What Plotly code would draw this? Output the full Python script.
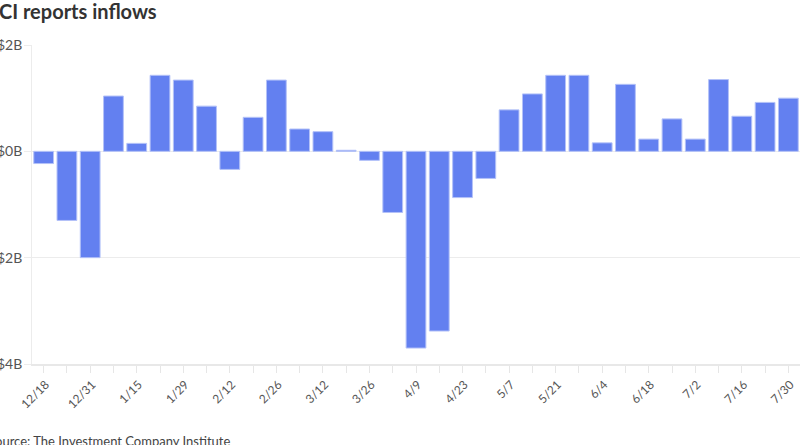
import plotly.graph_objects as go

weeks = ["12/18", "12/24", "12/31", "1/8", "1/15", "1/22", "1/29", "2/5", "2/12", "2/19",
         "2/26", "3/5", "3/12", "3/19", "3/26", "4/2", "4/9", "4/16", "4/23", "4/30",
         "5/7", "5/14", "5/21", "5/28", "6/4", "6/11", "6/18", "6/25", "7/2", "7/9",
         "7/16", "7/23", "7/30"]
inflows_b = [-0.23, -1.30, -2.00, 1.04, 0.15, 1.43, 1.34, 0.85, -0.34, 0.64,
             1.34, 0.42, 0.37, 0.02, -0.17, -1.15, -3.70, -3.38, -0.87, -0.51,
             0.78, 1.08, 1.43, 1.43, 0.16, 1.26, 0.23, 0.61, 0.23, 1.35,
             0.66, 0.92, 1.00]
y_ticks = [2, 0, -2, -4]
y_tick_labels = ["$2B", "$0B", "-$2B", "-$4B"]

title_text = "ICI reports inflows"
source_text = "Source: The Investment Company Institute"

fig = go.Figure(go.Bar(
    x=weeks, y=inflows_b,
    marker=dict(color="#6380F0", line=dict(color="#b4c2f8", width=1)),
    hoverinfo="x+y",
))

fig.update_layout(
    width=800, height=445,
    margin=dict(l=32, r=0, t=45, b=81, autoexpand=False),
    plot_bgcolor="white", paper_bgcolor="white",
    font=dict(family="Lato", color="#555555", size=12),
    bargap=0.15,
    showlegend=False,
    xaxis=dict(
        type="category",
        showgrid=False,
        showline=True, linecolor="#e8e8e8", linewidth=2,
        ticks="outside", ticklen=7, tickcolor="#e6e6e6", tickwidth=1,
        ticklabelstep=2,
        tickangle=-45,
        ticklabelshift=2,
        tickfont=dict(size=12, color="#555555"),
        automargin=False,
    ),
    yaxis=dict(
        range=[-4, 2],
        tickvals=y_ticks, ticktext=y_tick_labels,
        showgrid=True, gridcolor="#ececec", gridwidth=1,
        zeroline=True, zerolinecolor="#ececec", zerolinewidth=1,
        showline=True, linecolor="#ececec", linewidth=1,
        ticks="outside", ticklen=7, tickcolor="#ececec", tickwidth=1,
        ticklabelstandoff=-1,
        tickfont=dict(size=14, color="#555555"),
        automargin=False,
    ),
    annotations=[
        dict(text="<b>" + title_text + "</b>", xref="paper", yref="paper",
             x=-32 / 768 - 9 / 768, y=1 + 45 / 319 + 3 / 319,
             xanchor="left", yanchor="top", showarrow=False,
             font=dict(family="Lato", size=20, color="#333333")),
        dict(text=source_text, xref="paper", yref="paper",
             x=-32 / 768 - 14 / 768, y=-(441 - 364) / 319,
             xanchor="left", yanchor="middle", showarrow=False,
             font=dict(family="Lato", size=13, color="#444444")),
    ],
)

fig.write_html("out.html", config={"displayModeBar": False},
               post_script="document.body.style.margin='0';document.body.style.overflow='hidden';")
